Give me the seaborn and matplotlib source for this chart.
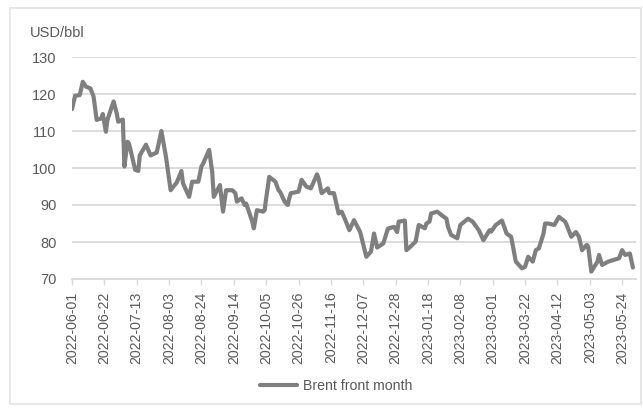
import matplotlib
matplotlib.use("Agg")
import matplotlib.pyplot as plt
import matplotlib.dates as mdates
from matplotlib.patches import Rectangle
import pandas as pd
import seaborn as sns

# Brent front-month settlement prices, USD/bbl
dates = [
    "2022-06-01", "2022-06-03", "2022-06-06", "2022-06-08", "2022-06-10", "2022-06-13",
    "2022-06-15", "2022-06-17", "2022-06-20", "2022-06-21", "2022-06-23", "2022-06-24",
    "2022-06-28", "2022-06-30", "2022-07-01", "2022-07-04", "2022-07-05", "2022-07-07",
    "2022-07-08", "2022-07-12", "2022-07-14", "2022-07-15", "2022-07-19", "2022-07-22",
    "2022-07-26", "2022-07-29", "2022-08-01", "2022-08-04", "2022-08-08", "2022-08-11",
    "2022-08-12", "2022-08-16", "2022-08-18", "2022-08-22", "2022-08-24", "2022-08-25",
    "2022-08-29", "2022-08-31", "2022-09-01", "2022-09-05", "2022-09-07", "2022-09-09",
    "2022-09-13", "2022-09-15", "2022-09-16", "2022-09-19", "2022-09-21", "2022-09-22",
    "2022-09-26", "2022-09-27", "2022-09-29", "2022-10-03", "2022-10-04", "2022-10-05",
    "2022-10-07", "2022-10-11", "2022-10-13", "2022-10-14", "2022-10-17", "2022-10-19",
    "2022-10-20", "2022-10-21", "2022-10-26", "2022-10-28", "2022-10-31", "2022-11-03",
    "2022-11-07", "2022-11-08", "2022-11-10", "2022-11-14", "2022-11-15", "2022-11-18",
    "2022-11-21", "2022-11-23", "2022-11-25", "2022-11-28", "2022-12-01", "2022-12-05",
    "2022-12-09", "2022-12-12", "2022-12-14", "2022-12-16", "2022-12-20", "2022-12-23",
    "2022-12-27", "2022-12-29", "2022-12-30", "2023-01-03", "2023-01-04", "2023-01-06",
    "2023-01-10", "2023-01-12", "2023-01-16", "2023-01-17", "2023-01-19", "2023-01-20",
    "2023-01-24", "2023-01-27", "2023-01-30", "2023-01-31", "2023-02-02", "2023-02-06",
    "2023-02-08", "2023-02-13", "2023-02-16", "2023-02-20", "2023-02-23", "2023-02-27",
    "2023-02-28", "2023-03-03", "2023-03-07", "2023-03-10", "2023-03-13", "2023-03-16",
    "2023-03-20", "2023-03-22", "2023-03-24", "2023-03-27", "2023-03-29", "2023-03-31",
    "2023-04-03", "2023-04-04", "2023-04-06", "2023-04-10", "2023-04-13", "2023-04-17",
    "2023-04-18", "2023-04-21", "2023-04-24", "2023-04-26", "2023-04-28", "2023-05-01",
    "2023-05-02", "2023-05-04", "2023-05-08", "2023-05-09", "2023-05-11", "2023-05-15",
    "2023-05-18", "2023-05-22", "2023-05-24", "2023-05-26", "2023-05-29", "2023-05-31",
]
brent = [
    115.9, 119.5, 119.7, 123.3, 122.0, 121.5,
    119.3, 113.0, 113.4, 114.6, 109.8, 113.0,
    118.0, 114.8, 112.5, 113.1, 100.4, 107.1,
    106.6, 99.5, 99.2, 103.4, 106.3, 103.4,
    104.2, 110.0, 103.0, 94.0, 96.1, 99.2,
    95.9, 92.2, 96.3, 96.3, 100.4, 101.1,
    104.9, 98.9, 92.2, 95.4, 88.2, 94.0,
    94.0, 93.2, 90.9, 91.8, 90.0, 90.4,
    85.5, 83.7, 88.6, 88.2, 88.6, 91.8,
    97.6, 96.3, 94.0, 93.6, 90.9, 90.0,
    91.8, 93.2, 93.6, 96.8, 95.0, 94.5,
    98.3, 97.2, 93.2, 94.5, 93.2, 93.2,
    87.7, 88.2, 86.3, 83.2, 85.9, 82.7,
    76.0, 77.4, 82.3, 78.5, 79.6, 83.6,
    84.1, 82.7, 85.5, 85.8, 77.8, 78.5,
    80.1, 84.6, 83.7, 85.0, 85.5, 87.7,
    88.2, 87.2, 86.3, 84.1, 81.9, 81.0,
    84.6, 86.3, 85.5, 83.2, 80.5, 83.2,
    82.8, 84.6, 85.8, 82.3, 81.4, 74.7,
    72.9, 73.3, 76.0, 74.7, 77.8, 78.3,
    82.3, 85.0, 85.0, 84.6, 86.8, 85.5,
    84.6, 81.4, 82.7, 81.4, 77.8, 79.2,
    78.7, 72.0, 74.7, 76.5, 73.8, 74.7,
    75.1, 75.6, 77.8, 76.5, 76.9, 73.1,
]
series_name = "Brent front month"
unit_label = "USD/bbl"
y_ticks = [70, 80, 90, 100, 110, 120, 130]

df = pd.DataFrame({"date": pd.to_datetime(dates), "price": brent, "series": series_name})

sns.set_theme(style="white")
plt.rcParams["font.family"] = ["Liberation Sans", "DejaVu Sans"]

text_c = "#595959"
grid_c = "#d9d9d9"
line_c = "#7f7f7f"

fig = plt.figure(figsize=(6.43, 4.08), dpi=100)
fig.patch.set_facecolor("white")
ax = fig.add_axes([72 / 643, 1 - 279 / 408, (636 - 72) / 643, (279 - 57) / 408])

sns.lineplot(data=df, x="date", y="price", hue="series", palette=[line_c],
             linewidth=3.0, ax=ax, legend=False,
             solid_joinstyle="round", solid_capstyle="round")

start = pd.Timestamp("2022-06-01")
ax.set_xlim(start, pd.Timestamp("2023-06-02"))
ax.set_ylim(y_ticks[0], y_ticks[-1])
ax.set_yticks(y_ticks)
xt = pd.date_range(start, pd.Timestamp("2023-05-31"), freq="21D")
ax.set_xticks(xt)
ax.xaxis.set_major_formatter(mdates.DateFormatter("%Y-%m-%d"))

ax.grid(axis="y", color=grid_c, linewidth=1.3)
ax.grid(axis="x", visible=False)
for s in ["top", "right", "left"]:
    ax.spines[s].set_visible(False)
ax.spines["bottom"].set_color(grid_c)
ax.spines["bottom"].set_linewidth(1.3)
ax.set_axisbelow(True)

ax.tick_params(axis="x", which="major", direction="out", length=4.5, width=1,
               color=grid_c, bottom=True, pad=4.5, labelsize=10.2, labelcolor=text_c,
               labelrotation=90)
ax.tick_params(axis="y", length=0, pad=11, labelsize=10.5, labelcolor=text_c)
ax.set_xlabel("")
ax.set_ylabel("")

fig.text(30 / 643, 1 - 33 / 408, unit_label, fontsize=10.5, color=text_c,
         ha="left", va="center")

handle = plt.Line2D([], [], color=line_c, linewidth=3.0)
fig.legend([handle], [series_name], loc="center",
           bbox_to_anchor=(336 / 643, 1 - 386 / 408), frameon=False,
           fontsize=10.2, labelcolor=text_c, handlelength=2.6, handletextpad=0.4)

fig.patches.append(Rectangle((10 / 643, 4 / 408), 631 / 643, 396 / 408,
                             transform=fig.transFigure, fill=False,
                             edgecolor="#e3e3e3", linewidth=1.2))

fig.savefig("out.png", dpi=100, facecolor="white")
